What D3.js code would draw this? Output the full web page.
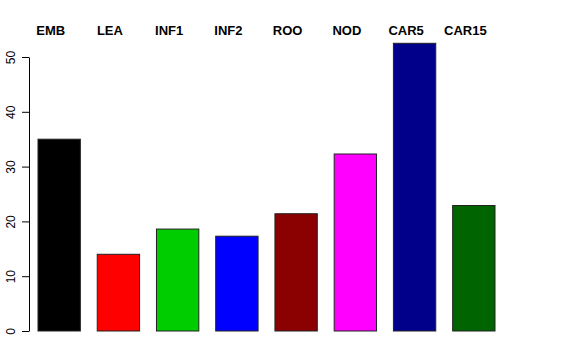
<!DOCTYPE html>
<html>
<head>
<meta charset="utf-8">
<script src="https://cdn.jsdelivr.net/npm/d3@7"></script>
<style>
  html, body { margin: 0; padding: 0; background: #fff; }
  svg { display: block; }
</style>
</head>
<body>
<svg id="chart" width="576" height="360"></svg>
<script>
const categories = ["EMB", "LEA", "INF1", "INF2", "ROO", "NOD", "CAR5", "CAR15"];
const values = [35.0, 14.0, 18.6, 17.3, 21.4, 32.3, 52.5, 22.9];
const colors = ["#000000", "#FF0000", "#00CD00", "#0000FF", "#8B0000", "#FF00FF", "#00008B", "#006400"];
const yTicks = [0, 10, 20, 30, 40, 50];

const svg = d3.select("#chart");
const font = "'Liberation Sans', Arial, Helvetica, sans-serif";

const x = d3.scaleBand()
  .domain(categories)
  .range([38, 495])
  .paddingInner(0.285)
  .paddingOuter(0);

const y = d3.scaleLinear().domain([0, 50]).range([331, 57]);

// bars
svg.append("g")
  .selectAll("rect")
  .data(categories)
  .join("rect")
  .attr("x", d => x(d))
  .attr("y", (d, i) => y(values[i]))
  .attr("width", x.bandwidth())
  .attr("height", (d, i) => y(0) - y(values[i]))
  .attr("fill", (d, i) => colors[i])
  .attr("stroke", "#222")
  .attr("stroke-width", 1);

// category labels at top
svg.append("g")
  .selectAll("text")
  .data(categories)
  .join("text")
  .attr("x", d => x(d) + x.bandwidth() / 2 - 8.5)
  .attr("y", 34.5)
  .attr("text-anchor", "middle")
  .attr("font-family", font)
  .attr("font-weight", "bold")
  .attr("font-size", 13)
  .attr("fill", "#000")
  .text(d => d);

// y axis
const yAxis = svg.append("g")
  .attr("transform", "translate(29,0)")
  .call(d3.axisLeft(y).tickValues(yTicks).tickSize(7).tickSizeOuter(0).tickFormat(d3.format("d")));

yAxis.select(".domain").attr("stroke", "#000");
yAxis.selectAll(".tick line").attr("stroke", "#000");
yAxis.selectAll(".tick text")
  .attr("transform", "rotate(-90)")
  .attr("x", 0)
  .attr("y", -14)
  .attr("dy", 0)
  .attr("text-anchor", "middle")
  .attr("font-family", font)
  .attr("font-size", 12)
  .attr("fill", "#000");
</script>
</body>
</html>
